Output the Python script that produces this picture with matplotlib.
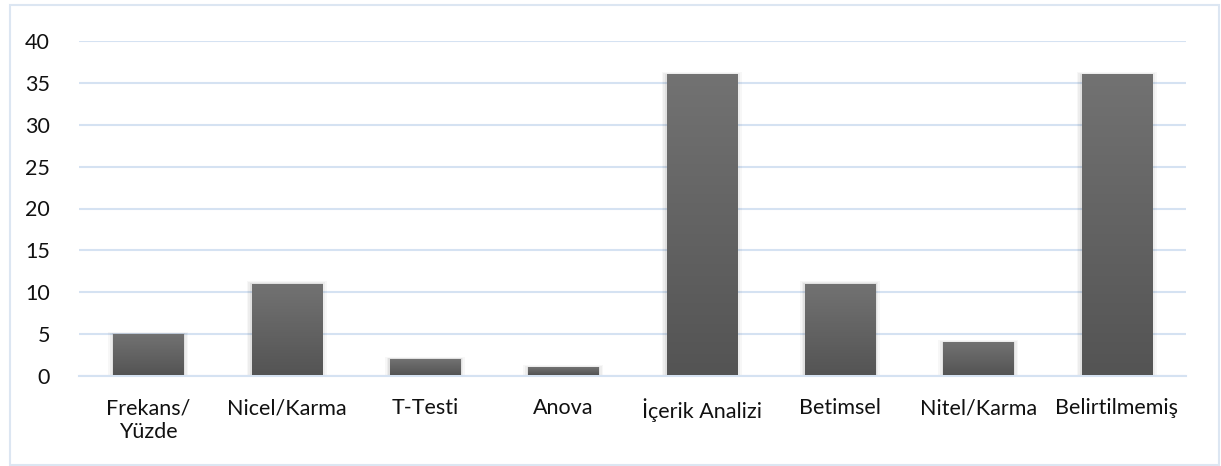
import matplotlib
matplotlib.use("Agg")
import matplotlib.pyplot as plt
import numpy as np
from matplotlib.patches import Rectangle
from matplotlib.colors import LinearSegmentedColormap

categories = ["Frekans/\nYüzde", "Nicel/Karma", "T-Testi", "Anova", "İçerik Analizi",
              "Betimsel", "Nitel/Karma", "Belirtilmemiş"]
values = [5, 11, 2, 1, 36, 11, 4, 36]
yticks = [0, 5, 10, 15, 20, 25, 30, 35, 40]

plt.rcParams['font.family'] = ['Lato', 'DejaVu Sans']

fig = plt.figure(figsize=(12.21, 4.66), dpi=100)
fig.patches.append(Rectangle((10/1221, 1/466), 1209/1221, 460/466, transform=fig.transFigure,
                             fill=False, edgecolor='#dce6f2', linewidth=1.5))
ax = fig.add_axes([79/1221, 1-376/466, (1186-79)/1221, (376-41)/466])

x = np.arange(len(categories))
width = 0.506
bars = ax.bar(x, values, width=width, color='none', zorder=3)
grad = np.linspace(0, 1, 100).reshape(-1, 1)
cmap = LinearSegmentedColormap.from_list('g', ['#545454', '#727272'])
for b in bars:
    x0, y0 = b.get_x(), b.get_y()
    w, h = b.get_width(), b.get_height()
    for i, a in enumerate([0.05, 0.04, 0.03]):
        d = 0.012 * (i + 1)
        ax.add_patch(Rectangle((x0 - d, y0), w + 2 * d, h + d * 8, color='black', alpha=a,
                               zorder=2, linewidth=0))
    ax.imshow(grad, extent=(x0, x0 + w, y0 + 0.15, y0 + h), origin='lower', cmap=cmap,
              aspect='auto', zorder=4)

ax.set_xlim(-0.5, len(categories) - 0.5)
ax.set_ylim(0, 40)
ax.set_yticks(yticks)
ax.set_xticks(x)
ax.set_xticklabels(categories, fontsize=15.5, linespacing=1.25, color='#111111')
ax.tick_params(axis='y', labelsize=15.5, length=0, pad=21, labelcolor='#111111')
ax.tick_params(axis='x', length=0, pad=16)
for s in ['top', 'right', 'left']:
    ax.spines[s].set_visible(False)
ax.spines['bottom'].set_color('#d5e2f2')
ax.spines['bottom'].set_linewidth(1.5)
ax.yaxis.grid(True, color='#d5e2f2', linewidth=1.5, zorder=0)
ax.set_axisbelow(True)

fig.savefig("out.png", dpi=100)
